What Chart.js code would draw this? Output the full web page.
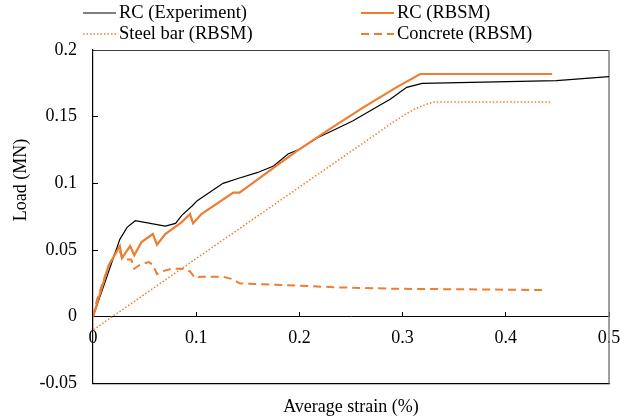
<!DOCTYPE html>
<html>
<head>
<meta charset="utf-8">
<script src="https://cdn.jsdelivr.net/npm/chart.js@4.4.0/dist/chart.umd.min.js"></script>
<style>
  body { margin: 0; background: #fff; }
  #wrap { width: 620px; height: 420px; }
</style>
</head>
<body>
<div id="wrap"><canvas id="myChart"></canvas></div>
<script>
// values
const expStrain = [0, 0.026, 0.033, 0.041, 0.070, 0.080, 0.086, 0.096, 0.101, 0.126, 0.142, 0.159, 0.175, 0.189, 0.201, 0.217, 0.236, 0.252, 0.272, 0.288, 0.304, 0.319, 0.449, 0.5];
const expLoad   = [0, 0.058, 0.067, 0.072, 0.068, 0.070, 0.076, 0.083, 0.087, 0.100, 0.104, 0.108, 0.113, 0.122, 0.126, 0.134, 0.141, 0.147, 0.156, 0.163, 0.172, 0.175, 0.177, 0.180];

const rcStrain = [0, 0.015, 0.026, 0.028, 0.036, 0.040, 0.047, 0.058, 0.062, 0.070, 0.086, 0.094, 0.097, 0.105, 0.136, 0.142, 0.165, 0.197, 0.230, 0.262, 0.294, 0.317, 0.445];
const rcLoad   = [0, 0.038, 0.053, 0.044, 0.053, 0.046, 0.056, 0.062, 0.054, 0.062, 0.071, 0.077, 0.070, 0.077, 0.093, 0.093, 0.106, 0.124, 0.141, 0.157, 0.172, 0.182, 0.182];

const steelStrain = [0, 0, 0.1, 0.2, 0.28, 0.29, 0.30, 0.31, 0.32, 0.33, 0.445];
const steelLoad   = [0, -0.010, 0.0436, 0.0972, 0.140, 0.1454, 0.1505, 0.155, 0.1585, 0.161, 0.161];

const concStrain = [0, 0.004, 0.015, 0.0245, 0.029, 0.037, 0.040, 0.0455, 0.054, 0.058, 0.062, 0.067, 0.076, 0.086, 0.094, 0.099, 0.104, 0.126, 0.136, 0.142, 0.239, 0.291, 0.44];
const concLoad   = [0, 0.013, 0.038, 0.052, 0.043, 0.043, 0.036, 0.039, 0.041, 0.039, 0.032, 0.034, 0.036, 0.036, 0.034, 0.029, 0.030, 0.030, 0.028, 0.025, 0.022, 0.021, 0.020];

const strainTicks = ['0', '0.1', '0.2', '0.3', '0.4', '0.5'];
const loadTicks = ['-0.05', '0', '0.05', '0.1', '0.15', '0.2'];

const orange = '#ED7D31';
const serif = "'Liberation Serif', 'Times New Roman', serif";
Chart.defaults.font.family = serif;
Chart.defaults.color = '#000';

const pts = (xs, ys) => xs.map((x, i) => ({x: x, y: ys[i]}));

// legend in two columns, like the original
const legendPlugin = {
    id: 'twoColLegend',
    afterDraw(chart) {
        const c = chart.ctx;
        const cols = [83, 361];
        const rows = [13, 34];
        chart.data.datasets.forEach((ds, i) => {
            const x = cols[i % 2], y = rows[Math.floor(i / 2)];
            c.save();
            c.strokeStyle = ds.borderColor;
            c.lineWidth = ds.borderWidth;
            c.setLineDash(ds.borderDash || []);
            c.beginPath();
            c.moveTo(x, y);
            c.lineTo(x + 33, y);
            c.stroke();
            c.setLineDash([]);
            c.fillStyle = '#000';
            c.font = '18.5px ' + serif;
            c.textBaseline = 'middle';
            c.fillText(ds.label, x + 36, y);
            c.restore();
        });
        // y title sits above the middle of the axis in the original
        c.save();
        c.translate(21, 180);
        c.rotate(-Math.PI / 2);
        c.font = '18px ' + serif;
        c.fillStyle = '#000';
        c.textAlign = 'center';
        c.textBaseline = 'middle';
        c.fillText('Load (MN)', 0, 0);
        c.restore();
    }
};

// top and right border of the plot box
const boxPlugin = {
    id: 'plotBox',
    beforeDatasetsDraw(chart) {
        const {ctx: c, chartArea: a} = chart;
        c.save();
        c.lineWidth = 1;
        c.strokeStyle = '#404040';
        c.beginPath();
        c.moveTo(a.left, a.top + 0.5);
        c.lineTo(a.right, a.top + 0.5);
        c.stroke();
        c.strokeStyle = '#808080';
        c.lineWidth = 1.5;
        c.beginPath();
        c.moveTo(a.right, a.top);
        c.lineTo(a.right, a.bottom);
        c.stroke();
        c.restore();
    }
};

const ctx = document.getElementById('myChart').getContext('2d');
const myChart = new Chart(ctx, {
    type: 'line',
    data: {
        datasets: [{
            label: 'RC (Experiment)',
            data: pts(expStrain, expLoad),
            borderColor: '#000',
            borderWidth: 1.2,
            order: 1
        }, {
            label: 'RC (RBSM)',
            data: pts(rcStrain, rcLoad),
            borderColor: orange,
            borderWidth: 2.2,
            order: 0
        }, {
            label: 'Steel bar (RBSM)',
            data: pts(steelStrain, steelLoad),
            borderColor: orange,
            borderWidth: 1.5,
            borderDash: [1.5, 2],
            order: 2
        }, {
            label: 'Concrete (RBSM)',
            data: pts(concStrain, concLoad),
            borderColor: orange,
            borderWidth: 2,
            borderDash: [8, 5],
            order: 3
        }]
    },
    options: {
        responsive: true,
        maintainAspectRatio: false,
        animation: false,
        elements: {
            point: { radius: 0 },
            line: { tension: 0, fill: false }
        },
        layout: {
            padding: { top: 50, right: 11, bottom: 0, left: 0 }
        },
        scales: {
            x: {
                type: 'linear',
                min: 0,
                max: 0.5,
                position: { y: 0 },
                ticks: {
                    stepSize: 0.1,
                    font: { size: 18 },
                    padding: 16,
                    maxRotation: 0,
                    callback: (v, i) => strainTicks[i]
                },
                grid: { drawOnChartArea: false, tickLength: -5, tickColor: '#000' },
                border: { color: '#000', width: 1 },
                afterFit: (s) => { s.height = 0; s.paddingLeft = 0; s.paddingRight = 0; }
            },
            xb: {
                type: 'linear',
                min: 0,
                max: 0.5,
                position: 'bottom',
                ticks: { display: false },
                grid: { display: false, drawTicks: false },
                border: { color: '#000', width: 1.2 },
                title: {
                    display: true,
                    text: 'Average strain (%)',
                    font: { size: 18 },
                    padding: { top: 13, bottom: 2 }
                }
            },
            y: {
                min: -0.05,
                max: 0.2,
                ticks: {
                    stepSize: 0.05,
                    font: { size: 18 },
                    padding: 21,
                    callback: (v, i) => loadTicks[i]
                },
                grid: { drawOnChartArea: false, tickLength: -5, tickColor: '#000' },
                border: { color: '#000', width: 1.2 },
                afterFit: (s) => { s.width = 93; }
            }
        },
        plugins: {
            legend: { display: false },
            tooltip: { enabled: false }
        }
    },
    plugins: [legendPlugin, boxPlugin]
});
</script>
</body>
</html>
